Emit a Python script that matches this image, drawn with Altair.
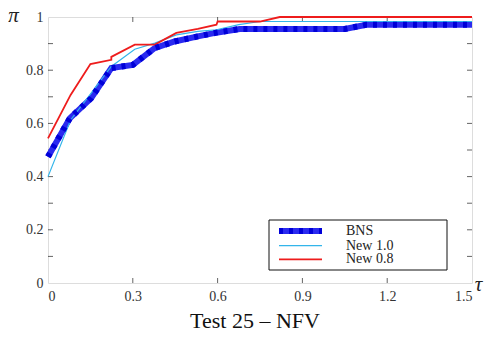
import altair as alt
import pandas as pd

# ---- data ----
bns_tau = [0, 0.077, 0.153, 0.224, 0.30, 0.377, 0.448, 0.53, 0.60, 0.678, 1.05, 1.126, 1.5]
bns_pi = [0.475, 0.619, 0.695, 0.808, 0.82, 0.883, 0.908, 0.927, 0.942, 0.955, 0.955, 0.971, 0.971]

new10_tau = [0, 0.08, 0.148, 0.224, 0.307, 0.378, 0.454, 0.53, 0.596, 0.675, 0.75, 1.5]
new10_pi = [0.40, 0.613, 0.707, 0.814, 0.879, 0.902, 0.933, 0.946, 0.952, 0.971, 0.983, 0.983]

new08_tau = [0, 0.08, 0.15, 0.224, 0.224, 0.307, 0.378, 0.454, 0.53, 0.596, 0.60, 0.75, 0.82, 1.5]
new08_pi = [0.544, 0.707, 0.823, 0.839, 0.85, 0.896, 0.896, 0.94, 0.955, 0.971, 0.983, 0.983, 1.0, 1.0]

series_names = ["BNS", "New 1.0", "New 0.8"]
series_colors = ["#2a2af0", "#33b5ea", "#ee1c1c"]
series_widths = [6, 1.2, 1.8]

x_ticks = [0, 0.3, 0.6, 0.9, 1.2, 1.5]
y_ticks = [0, 0.1, 0.2, 0.3, 0.4, 0.5, 0.6, 0.7, 0.8, 0.9, 1]
x_inner_ticks = [0.3, 0.6, 0.9, 1.2]
y_inner_ticks = [0.1, 0.2, 0.3, 0.4, 0.5, 0.6, 0.7, 0.8, 0.9]

rows = []
for name, taus, pis in [("BNS", bns_tau, bns_pi), ("New 1.0", new10_tau, new10_pi), ("New 0.8", new08_tau, new08_pi)]:
    for i, (t, p) in enumerate(zip(taus, pis)):
        rows.append({"series": name, "tau": t, "pi": p, "idx": i})
df = pd.DataFrame(rows)

SERIF = "Liberation Serif"
FRAME = "#333333"

xscale = alt.Scale(domain=[0, 1.5], nice=False, zero=False)
yscale = alt.Scale(domain=[0, 1], nice=False, zero=False)
cscale = alt.Scale(domain=series_names, range=series_colors)
wscale = alt.Scale(type="ordinal", domain=series_names, range=series_widths)

x_axis = alt.Axis(values=x_ticks, labelExpr="format(datum.value, '~g')", grid=False, ticks=False,
                  domain=False, labelFont=SERIF, labelFontSize=14, labelColor="#333",
                  labelPadding=6, title="τ", titleFont=SERIF, titleFontStyle="italic",
                  titleFontWeight="normal", titleFontSize=21, titleX=430, titleY=7,
                  titleAlign="center", titleBaseline="alphabetic", titleColor="#222")
y_axis = alt.Axis(values=y_ticks, labelExpr="format(datum.value, '~g')", grid=False, ticks=False,
                  domain=False, labelFont=SERIF, labelFontSize=14, labelColor="#333",
                  labelPadding=5, title="π", titleAngle=0, titleFont=SERIF, titleFontStyle="italic",
                  titleFontWeight="normal", titleFontSize=21, titleX=-35, titleY=4,
                  titleAlign="center", titleBaseline="alphabetic", titleColor="#222")

lines = alt.Chart(df).mark_line(clip=False).encode(
    x=alt.X("tau:Q", scale=xscale, axis=x_axis),
    y=alt.Y("pi:Q", scale=yscale, axis=y_axis),
    color=alt.Color("series:N", scale=cscale, legend=None),
    strokeWidth=alt.StrokeWidth("series:N", scale=wscale, legend=None),
    order=alt.Order("idx:Q"),
    detail="series:N",
)

bns_df = df[df.series == "BNS"]
overlay = alt.Chart(bns_df).mark_line(strokeWidth=6, color="#0000d8", strokeDash=[4, 6]).encode(
    x=alt.X("tau:Q", scale=xscale),
    y=alt.Y("pi:Q", scale=yscale),
    order=alt.Order("idx:Q"),
)

xt = pd.DataFrame({"t": x_inner_ticks})
yt = pd.DataFrame({"t": y_inner_ticks})
tick_bottom = alt.Chart(xt).mark_tick(orient="vertical", size=10, clip=True, color="#222", thickness=1).encode(
    x=alt.X("t:Q", scale=xscale), y=alt.datum(0, scale=yscale))
tick_top = alt.Chart(xt).mark_tick(orient="vertical", size=10, clip=True, color="#222", thickness=1).encode(
    x=alt.X("t:Q", scale=xscale), y=alt.datum(1, scale=yscale))
tick_left = alt.Chart(yt).mark_tick(orient="horizontal", size=10, clip=True, color="#222", thickness=1).encode(
    y=alt.Y("t:Q", scale=yscale), x=alt.datum(0, scale=xscale))
tick_right = alt.Chart(yt).mark_tick(orient="horizontal", size=10, clip=True, color="#222", thickness=1).encode(
    y=alt.Y("t:Q", scale=yscale), x=alt.datum(1.5, scale=xscale))

# ---- legend (layout positions in pixels, relative to the plot area) ----
LEG_BOX = (221, 399, 203, 253)
LEG_SYM_X = (231, 274)
LEG_LABEL_X = 298
LEG_ROW_Y = [214, 228.7, 242.3]

leg_layers = [
    alt.Chart(pd.DataFrame({"k": [0]})).mark_rect(fill="white", stroke="#111", strokeWidth=1).encode(
        x=alt.value(LEG_BOX[0]), x2=alt.value(LEG_BOX[1]),
        y=alt.value(LEG_BOX[2]), y2=alt.value(LEG_BOX[3]))
]
for i, name in enumerate(series_names):
    one = pd.DataFrame({"series": [name]})
    leg_layers.append(
        alt.Chart(one).mark_rule().encode(
            x=alt.value(LEG_SYM_X[0]), x2=alt.value(LEG_SYM_X[1]), y=alt.value(LEG_ROW_Y[i]),
            color=alt.Color("series:N", scale=cscale, legend=None),
            strokeWidth=alt.StrokeWidth("series:N", scale=wscale, legend=None))
    )
    if name == "BNS":
        leg_layers.append(
            alt.Chart(one).mark_rule(strokeWidth=6, color="#0000d8", strokeDash=[4, 6]).encode(
                x=alt.value(LEG_SYM_X[0]), x2=alt.value(LEG_SYM_X[1]), y=alt.value(LEG_ROW_Y[i]))
        )
    leg_layers.append(
        alt.Chart(one).mark_text(align="left", baseline="middle", font=SERIF, fontSize=14,
                                 color="#222").encode(
            x=alt.value(LEG_LABEL_X), y=alt.value(LEG_ROW_Y[i]), text="series:N")
    )

chart = alt.layer(tick_bottom, tick_top, tick_left, tick_right, lines, overlay, *leg_layers).properties(
    width=424, height=266,
    autosize=alt.AutoSizeParams(type="none"),
    padding={"left": 40, "top": 9, "right": 13, "bottom": 49},
    title=alt.TitleParams("Test 25 – NFV", orient="bottom", font=SERIF, fontSize=22,
                          fontWeight="normal", color="#111", offset=8, dx=-5),
).configure_view(stroke=FRAME, strokeWidth=1.3).configure(background="white")

chart.save("out.html", embed_options={"renderer": "svg", "actions": False})
